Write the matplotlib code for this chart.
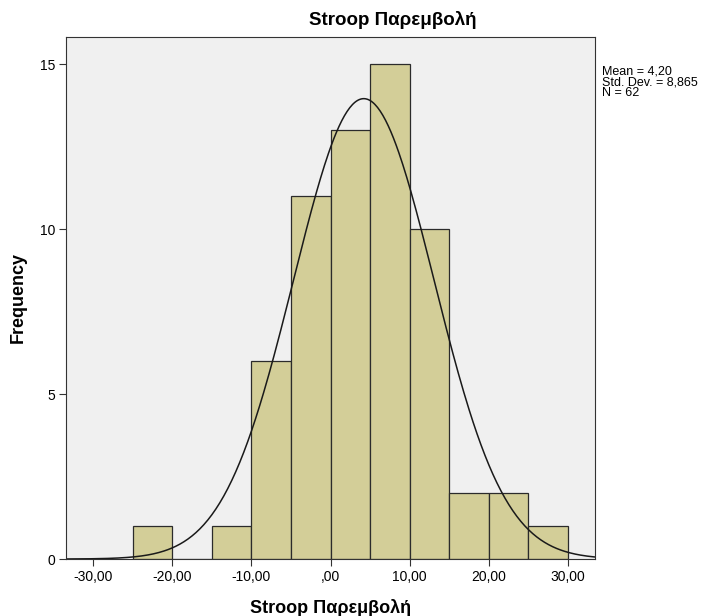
import numpy as np
import matplotlib.pyplot as plt

plt.rcParams['font.family'] = ['Liberation Sans', 'DejaVu Sans']

# histogram bins (width 5) and counts
bin_edges = [-25, -20, -15, -10, -5, 0, 5, 10, 15, 20, 25, 30]
counts = [1, 0, 1, 6, 11, 13, 15, 10, 2, 2, 1]
mean = 4.20
std = 8.865
n = 62
x_ticks = [-30, -20, -10, 0, 10, 20, 30]
x_tick_labels = ['-30,00', '-20,00', '-10,00', ',00', '10,00', '20,00', '30,00']
y_ticks = [0, 5, 10, 15]

fig = plt.figure(figsize=(7.1, 6.16), dpi=100)
ax = fig.add_axes([0.093, 0.0925, 0.745, 0.8475])
ax.set_facecolor('#f0f0f0')

widths = np.diff(bin_edges)
ax.bar(bin_edges[:-1], counts, width=widths, align='edge',
       color='#d3ce98', edgecolor='#2b2b2b', linewidth=0.9)

# normal curve scaled to counts
xs = np.linspace(-33.4, 33.4, 400)
bw = 5
ys = n * bw / (std * np.sqrt(2 * np.pi)) * np.exp(-0.5 * ((xs - mean) / std) ** 2)
ax.plot(xs, ys, color='#1a1a1a', linewidth=1.1)

ax.set_xlim(-33.4, 33.4)
ax.set_ylim(0, 15.82)
ax.set_xticks(x_ticks)
ax.set_xticklabels(x_tick_labels, fontsize=10)
ax.set_yticks(y_ticks)
ax.set_yticklabels([str(v) for v in y_ticks], fontsize=10)
ax.tick_params(direction='out', length=5, width=0.8, color='#333333', pad=3)
for s in ax.spines.values():
    s.set_color('#333333')
    s.set_linewidth(0.8)

# title sits a bit right of the plot centre, like the original
fig.text(0.5535, 0.967, 'Stroop Παρεμβολή', fontsize=13.5, fontweight='bold',
         ha='center', va='center')
ax.set_xlabel('Stroop Παρεμβολή', fontsize=13, fontweight='bold')
ax.xaxis.set_label_coords(0.5, -0.076)
ax.set_ylabel('Frequency', fontsize=13, fontweight='bold')
ax.yaxis.set_label_coords(-0.074, 0.5)

fig.text(0.848, 0.893, 'Mean = 4,20\nStd. Dev. = 8,865\nN = 62',
         fontsize=9, va='top', ha='left', linespacing=0.82)

fig.savefig('out.png', dpi=100)
